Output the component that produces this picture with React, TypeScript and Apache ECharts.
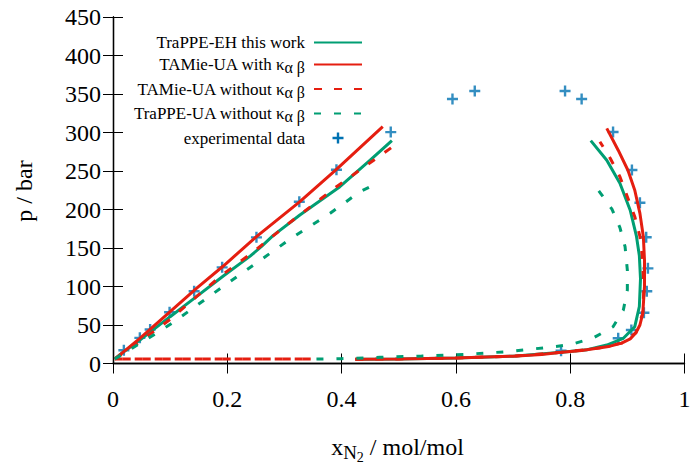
import React, { useEffect, useRef } from 'react';
import * as echarts from 'echarts';

const F = 'Liberation Serif';
const GREEN = '#009e73';
const RED = '#e51e10';
const BLUE = '#0072b2';

const seriesNames = [
  'TraPPE-EH this work',
  'TAMie-UA with καβ',
  'TAMie-UA without καβ',
  'TraPPE-UA without καβ',
  'experimental data',
];
const legendText: Record<string, string> = {
  'TraPPE-EH this work': 'TraPPE-EH this work',
  'TAMie-UA with καβ': 'TAMie-UA with κ{sub|α β}',
  'TAMie-UA without καβ': 'TAMie-UA without κ{sub|α β}',
  'TraPPE-UA without καβ': 'TraPPE-UA without κ{sub|α β}',
  'experimental data': 'experimental data',
};

// [x_N2, p/bar]
const trappeEhLiquid = [[0.003, 5.8], [0.02, 16], [0.047, 30.5], [0.1, 60.8], [0.146, 86.8], [0.193, 113.6], [0.24, 139.5], [0.26, 152], [0.28, 166], [0.327, 192.9], [0.397, 229.6], [0.45, 264], [0.488, 289.4]];
const trappeEhVapor = [[0.424, 5.5], [0.5, 6], [0.6, 7.2], [0.7, 9.5], [0.785, 14.5], [0.83, 18], [0.864, 24], [0.893, 32.7], [0.913, 47.8], [0.921, 74], [0.923, 110], [0.921, 140], [0.916, 165], [0.905, 199], [0.887, 234], [0.864, 264], [0.836, 289.4]];

const tamieWithLiquid = [[0.003, 5.8], [0.047, 32.7], [0.1, 67.3], [0.146, 97.6], [0.193, 126.6], [0.251, 164.7], [0.327, 210.2], [0.391, 252.2], [0.472, 307.6]];
const tamieWithVapor = [[0.424, 5.5], [0.5, 6], [0.6, 7.2], [0.7, 9.5], [0.75, 11.8], [0.785, 14.5], [0.82, 17], [0.85, 20], [0.87, 22.5], [0.89, 26.5], [0.905, 32], [0.915, 40], [0.922, 50], [0.927, 65], [0.93, 100], [0.93, 134], [0.928, 164.7], [0.922, 195], [0.913, 225], [0.901, 251], [0.884, 277], [0.864, 305.4]];

const tamieWithoutLiquid = [[0.003, 5.8], [0.047, 28.3], [0.1, 57.4], [0.146, 86.8], [0.193, 116.2], [0.246, 145.2], [0.304, 179.9], [0.391, 229.6], [0.488, 280.8]];
const tamieWithoutVaporLow = [[0.003, 5.8], [0.35, 5.8]];
const tamieWithoutVapor = [[0.424, 5.5], [0.5, 6], [0.6, 7.2], [0.7, 9.5], [0.785, 14.5], [0.85, 20], [0.89, 26.5], [0.915, 40], [0.927, 65], [0.929, 100], [0.926, 140], [0.922, 165], [0.913, 190.6], [0.9, 216.6], [0.887, 242.6], [0.87, 266.5], [0.852, 288]];

const trappeUaLiquid = [[0.003, 5.8], [0.071, 37], [0.103, 52.2], [0.164, 84.7], [0.196, 101.9], [0.254, 132.2], [0.316, 164.7], [0.38, 195.1], [0.432, 223.1], [0.465, 235]];
const trappeUaVapor = [[0.356, 5.8], [0.4, 6.3], [0.467, 8], [0.54, 9.7], [0.616, 11.9], [0.689, 15.3], [0.762, 21], [0.8, 24.4], [0.84, 33], [0.875, 47.8], [0.893, 69.5], [0.9, 95.5], [0.9, 121.4], [0.896, 151.7], [0.887, 176.5], [0.873, 200.5], [0.849, 225.3]];

const experimental = [[0.019, 17.2], [0.047, 33.3], [0.065, 44.1], [0.099, 66.5], [0.142, 93.8], [0.191, 124.9], [0.251, 163.8], [0.326, 210], [0.391, 251.6], [0.486, 300.5], [0.594, 343.5], [0.633, 353.9], [0.791, 353.9], [0.82, 343.5], [0.875, 300.6], [0.908, 251.3], [0.922, 208.8], [0.933, 163.9], [0.936, 123.6], [0.934, 93.8], [0.929, 66], [0.907, 43.5], [0.884, 32.7], [0.784, 16.6]];

const PLUS = 'path://M4.3,0h2.4v4.3h4.3v2.4h-4.3v4.3h-2.4v-4.3h-4.3v-2.4h4.3z';

function lineSeries(name: string, data: number[][], color: string, dash: any, extra: any = {}) {
  return {
    type: 'line',
    name,
    data,
    symbol: 'none',
    showSymbol: false,
    smooth: false,
    xAxisIndex: 0,
    yAxisIndex: 0,
    lineStyle: { color, width: 3, type: dash, ...extra },
    itemStyle: { color },
    silent: true,
  };
}

export default function App() {
  const ref = useRef<HTMLDivElement>(null);
  useEffect(() => {
    const chart = echarts.init(ref.current!, null, { renderer: 'svg' });
    const axisCommon = {
      type: 'value',
      axisLine: { show: true, lineStyle: { color: '#000', width: 1.3 } },
      axisTick: { show: true, inside: true, length: 10, lineStyle: { color: '#000', width: 1 } },
      splitLine: { show: false },
    };
    const labelStyle = { fontFamily: F, fontSize: 24, color: '#000' };
    const option: any = {
      animation: false,
      backgroundColor: '#fff',
      grid: { left: 113, right: 6.5, top: 17, bottom: 101.5, containLabel: false, outerBoundsMode: 'none' },
      xAxis: [
        { ...axisCommon, position: 'bottom', min: 0, max: 1, interval: 0.2, axisLabel: { ...labelStyle, margin: 23 } },
        { ...axisCommon, position: 'top', min: 0, max: 1, interval: 0.2, axisLabel: { show: false } },
      ],
      yAxis: [
        { ...axisCommon, position: 'left', min: 0, max: 450, interval: 50, axisLabel: { ...labelStyle, margin: 12 } },
        { ...axisCommon, position: 'right', min: 0, max: 450, interval: 50, axisLabel: { show: false } },
      ],
      legend: {
        orient: 'vertical',
        align: 'right',
        right: 328,
        top: 34,
        padding: 0,
        itemGap: 5,
        itemWidth: 48,
        itemHeight: 11,
        selectedMode: false,
        itemStyle: { opacity: 0 },
        data: seriesNames.map((n, i) => (i === 4 ? { name: n, itemStyle: { opacity: 1, color: BLUE } } : { name: n })),
        formatter: (name: string) => legendText[name],
        textStyle: {
          fontFamily: F,
          fontSize: 17,
          color: '#000',
          padding: [0, 4, 0, 0],
          rich: {
            sub: { fontFamily: F, fontSize: 16, color: '#000', padding: [6, 0, 0, 0] },
          },
        },
      },
      series: [
        lineSeries(seriesNames[0], trappeEhLiquid, GREEN, 'solid'),
        lineSeries(seriesNames[0], trappeEhVapor, GREEN, 'solid'),
        lineSeries(seriesNames[1], tamieWithLiquid, RED, 'solid'),
        lineSeries(seriesNames[1], tamieWithVapor, RED, 'solid'),
        lineSeries(seriesNames[2], tamieWithoutLiquid, RED, [8, 12]),
        lineSeries(seriesNames[2], tamieWithoutVapor, RED, [8, 12]),
        lineSeries(seriesNames[2], tamieWithoutVaporLow, RED, [8, 12]),
        lineSeries(seriesNames[2], tamieWithoutVaporLow, RED, [8, 12], { dashOffset: 11.5 }),
        lineSeries(seriesNames[3], trappeUaLiquid, GREEN, [7, 13]),
        lineSeries(seriesNames[3], trappeUaVapor, GREEN, [7, 13]),
        {
          type: 'scatter',
          name: seriesNames[4],
          data: experimental,
          symbol: PLUS,
          symbolSize: 11,
          itemStyle: { color: BLUE },
          silent: true,
        },
      ],
      graphic: [
        {
          type: 'text',
          x: 24,
          y: 191,
          rotation: Math.PI / 2,
          style: { text: 'p / bar', fontFamily: F, fontSize: 24, fill: '#000', align: 'center', verticalAlign: 'middle' },
        },
        {
          type: 'text',
          x: 397.5,
          y: 447,
          style: {
            text: '{m|x}{n|N}{t|2}{m| / mol/mol}',
            align: 'center',
            verticalAlign: 'middle',
            rich: {
              m: { fontFamily: F, fontSize: 24, fill: '#000' },
              n: { fontFamily: F, fontSize: 19, fill: '#000', padding: [10, 0, 0, 0] },
              t: { fontFamily: F, fontSize: 14, fill: '#000', padding: [20, 0, 0, 0] },
            },
          },
        },
      ],
    };
    chart.setOption(option);
    return () => chart.dispose();
  }, []);
  return <div ref={ref} style={{ position: 'fixed', left: 0, top: 0, width: 691, height: 465 }} />;
}
